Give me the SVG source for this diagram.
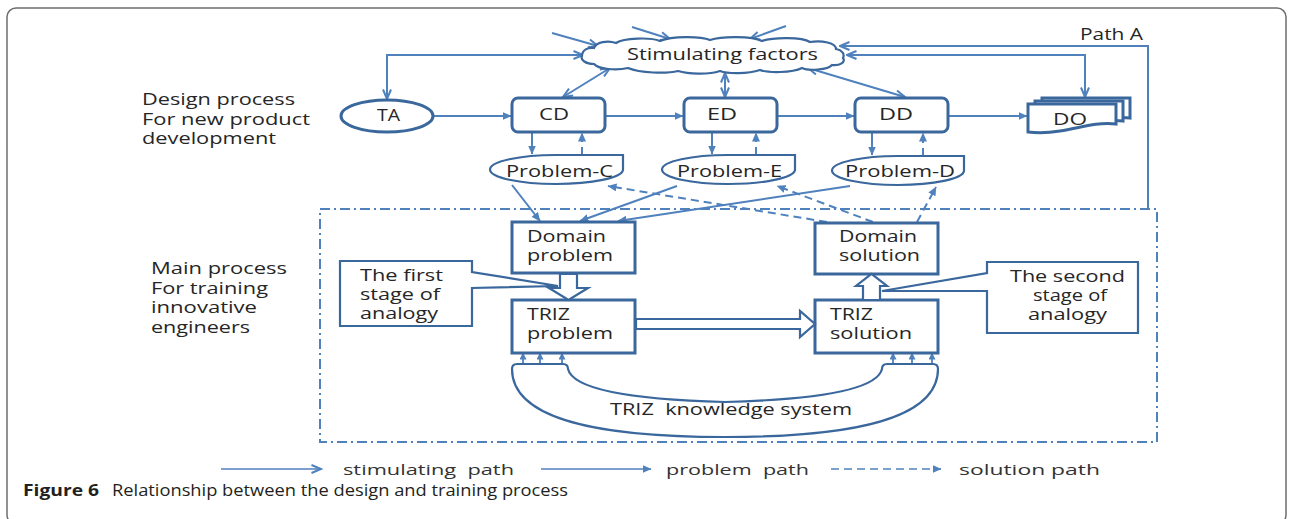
<svg xmlns="http://www.w3.org/2000/svg" width="1289" height="519" viewBox="0 0 1289 519">
  <defs>
    <style>
      .stim { fill: none; stroke: #4f81bd; stroke-width: 2; marker-end: url(#open); }
      .both { marker-start: url(#open); }
      .prob { fill: none; stroke: #4f81bd; stroke-width: 2; marker-end: url(#tri); }
      .sol { fill: none; stroke: #4f81bd; stroke-width: 2; stroke-dasharray: 8 5; marker-end: url(#tri); }
      .tiny { fill: none; stroke: #4f81bd; stroke-width: 1.8; marker-end: url(#triS); }
      .node { fill: #fff; stroke: #3a679c; stroke-width: 3; }
      .thin { fill: #fff; stroke: #3a679c; stroke-width: 2.2; }
      .frame { fill: none; stroke: #4f81bd; stroke-width: 2; stroke-dasharray: 10 4 2 4; }
      text { font-family: "Open Sans", "Liberation Sans", sans-serif; font-size: 16px; fill: #262626; }
      .sm { font-size: 15px; fill: #333; }
      .cap { font-size: 16px; fill: #231f20; }
    </style>
    <marker id="open" viewBox="0 0 12 10" markerWidth="12" markerHeight="10" refX="10.5" refY="5" markerUnits="userSpaceOnUse" orient="auto-start-reverse">
      <path d="M1,1 L10.5,5 L1,9" fill="none" stroke="#4f81bd" stroke-width="2"/>
    </marker>
    <marker id="tri" viewBox="0 0 9 8" markerWidth="9" markerHeight="8" refX="8.5" refY="4" markerUnits="userSpaceOnUse" orient="auto-start-reverse">
      <path d="M0,0 L9,4 L0,8 Z" fill="#4f81bd"/>
    </marker>
    <marker id="triS" viewBox="0 0 7 7" markerWidth="7" markerHeight="7" refX="6.5" refY="3.5" markerUnits="userSpaceOnUse" orient="auto">
      <path d="M0,0 L7,3.5 L0,7 Z" fill="#4f81bd"/>
    </marker>
  </defs>

  <rect width="1289" height="519" fill="#fff"/>
  <!-- figure border -->
  <rect x="7" y="8" width="1279" height="516" rx="9" fill="none" stroke="#6e6e6e" stroke-width="1.5"/>

  <!-- side labels -->
  <g id="labels">
    <text x="142" y="105" textLength="153" lengthAdjust="spacingAndGlyphs">Design process</text>
    <text x="142" y="125" textLength="168" lengthAdjust="spacingAndGlyphs">For new product</text>
    <text x="142" y="144" textLength="134" lengthAdjust="spacingAndGlyphs">development</text>
    <text x="151" y="274" textLength="136" lengthAdjust="spacingAndGlyphs">Main process</text>
    <text x="151" y="294" textLength="117" lengthAdjust="spacingAndGlyphs">For training</text>
    <text x="151" y="313" textLength="106" lengthAdjust="spacingAndGlyphs">innovative</text>
    <text x="151" y="333" textLength="99" lengthAdjust="spacingAndGlyphs">engineers</text>
    <text x="1080" y="40" textLength="63" lengthAdjust="spacingAndGlyphs">Path A</text>
  </g>

  <!-- training process boundary -->
  <rect class="frame" x="320" y="209" width="837" height="233"/>

  <!-- connectors -->
  <g id="connectors">
    <!-- stimulating paths -->
    <path class="stim" d="M552,33 L598,46"/>
    <path class="stim" d="M632,27 L670,39"/>
    <path class="stim" d="M786,26 L750,39"/>
    <path class="stim both" d="M583,55 H387 V99"/>
    <path class="stim both" d="M610,68 L563,97"/>
    <path class="stim both" d="M725,73 V97"/>
    <path class="stim both" d="M808,68 L905,97"/>
    <path class="stim both" d="M847,55 H1085 V97"/>
    <path class="stim" d="M1148,209 V46 H840"/>
    <!-- problem paths -->
    <path class="prob" d="M433,116 H511"/>
    <path class="prob" d="M605,116 H683"/>
    <path class="prob" d="M777,116 H854"/>
    <path class="prob" d="M948,116 H1027"/>
    <path class="prob" d="M532,133 V154"/>
    <path class="prob" d="M712,133 V154"/>
    <path class="prob" d="M872,133 V155"/>
    <path class="prob" d="M512,185 L540,221"/>
    <path class="prob" d="M677,186 L580,221"/>
    <path class="prob" d="M850,186 L618,221"/>
    <!-- solution paths -->
    <path class="sol" d="M582,155 V133"/>
    <path class="sol" d="M756,155 V133"/>
    <path class="sol" d="M923,156 V133"/>
    <path class="sol" d="M827,222 L608,186"/>
    <path class="sol" d="M873,222 L777,186"/>
    <path class="sol" d="M917,222 L936,187"/>
    <!-- knowledge feeds -->
    <path class="tiny" d="M523,364 V353"/>
    <path class="tiny" d="M540,364 V353"/>
    <path class="tiny" d="M562,364 V353"/>
    <path class="tiny" d="M893,364 V353"/>
    <path class="tiny" d="M912,364 V353"/>
    <path class="tiny" d="M932,364 V353"/>
  </g>

  <!-- stimulating factors cloud -->
  <g id="cloud">
    <path class="thin" d="M582,56 C582,50 588,47 594,48 C596,42 608,40 616,43 C624,38 650,37 660,41 C672,36 700,36 710,40 C722,36 752,36 762,41 C774,37 802,37 810,42 C822,40 836,43 836,49 C842,50 845,54 843,58 C846,62 840,66 832,65 C828,70 808,71 802,68 C792,73 768,73 760,70 C748,74 728,74 720,71 C708,75 688,74 678,71 C666,74 640,73 628,68 C616,71 598,69 594,64 C586,64 580,60 582,56 Z"/>
    <text x="627" y="60" font-size="16" textLength="191" lengthAdjust="spacingAndGlyphs">Stimulating factors</text>
  </g>

  <g id="TA">
    <ellipse class="node" cx="387" cy="116" rx="46" ry="16"/>
    <text x="377" y="121" textLength="23" lengthAdjust="spacingAndGlyphs">TA</text>
  </g>
  <g id="CD">
    <rect class="node" x="512" y="98" width="93" height="34" rx="6"/>
    <text x="539" y="120" textLength="30" lengthAdjust="spacingAndGlyphs">CD</text>
  </g>
  <g id="ED">
    <rect class="node" x="684" y="98" width="93" height="34" rx="6"/>
    <text x="707" y="120" textLength="30" lengthAdjust="spacingAndGlyphs">ED</text>
  </g>
  <g id="DD">
    <rect class="node" x="855" y="98" width="93" height="34" rx="6"/>
    <text x="879" y="120" textLength="34" lengthAdjust="spacingAndGlyphs">DD</text>
  </g>
  <g id="DO">
    <path class="node" transform="translate(14,-6)" d="M1028,104 H1116 V124 C1095,122 1080,128 1060,131 C1048,133 1036,133 1028,132 Z"/>
    <path class="node" transform="translate(7,-3)" d="M1028,104 H1116 V124 C1095,122 1080,128 1060,131 C1048,133 1036,133 1028,132 Z"/>
    <path class="node" d="M1028,104 H1116 V124 C1095,122 1080,128 1060,131 C1048,133 1036,133 1028,132 Z"/>
    <text x="1053" y="125" textLength="34" lengthAdjust="spacingAndGlyphs">DO</text>
  </g>

  <g id="problem-c">
    <path class="thin" d="M556,155 H623 V170 A67,14.5 0 0 1 556,184 A66,14.5 0 0 1 490,169.5 A66,14.5 0 0 1 556,155 Z"/>
    <text x="506" y="177" textLength="107" lengthAdjust="spacingAndGlyphs">Problem-C</text>
  </g>
  <g id="problem-e">
    <path class="thin" d="M728,155 H795 V170 A67,14.5 0 0 1 728,184 A66,14.5 0 0 1 662,169.5 A66,14.5 0 0 1 728,155 Z"/>
    <text x="677" y="177" textLength="105" lengthAdjust="spacingAndGlyphs">Problem-E</text>
  </g>
  <g id="problem-d">
    <path class="thin" d="M898,156 H964 V171 A66,14.5 0 0 1 898,185 A66,14.5 0 0 1 832,170.5 A66,14.5 0 0 1 898,156 Z"/>
    <text x="845" y="177" textLength="110" lengthAdjust="spacingAndGlyphs">Problem-D</text>
  </g>

  <g id="domain-problem">
    <rect class="node" x="512" y="222" width="123" height="51"/>
    <text x="527" y="242" textLength="79" lengthAdjust="spacingAndGlyphs">Domain</text>
    <text x="527" y="261" textLength="86" lengthAdjust="spacingAndGlyphs">problem</text>
  </g>
  <g id="domain-solution">
    <rect class="node" x="815" y="223" width="123" height="51"/>
    <text x="839" y="242" textLength="78" lengthAdjust="spacingAndGlyphs">Domain</text>
    <text x="839" y="261" textLength="81" lengthAdjust="spacingAndGlyphs">solution</text>
  </g>
  <g id="triz-problem">
    <rect class="node" x="512" y="300" width="123" height="53"/>
    <text x="527" y="320" textLength="43" lengthAdjust="spacingAndGlyphs">TRIZ</text>
    <text x="527" y="339" textLength="86" lengthAdjust="spacingAndGlyphs">problem</text>
  </g>
  <g id="triz-solution">
    <rect class="node" x="815" y="300" width="123" height="53"/>
    <text x="830" y="320" textLength="43" lengthAdjust="spacingAndGlyphs">TRIZ</text>
    <text x="830" y="339" textLength="82" lengthAdjust="spacingAndGlyphs">solution</text>
  </g>

  <!-- analogy block arrows -->
  <g id="analogy-arrows">
    <path class="thin" d="M560,274 H577 V288 H588 L568.5,300 L549,288 H560 Z"/>
    <path class="thin" d="M636,319 H800 V311 L815,324 L800,337 V329 H636 Z"/>
    <path class="thin" d="M863,300 V286 H856 L871.5,274 L887,286 H880 V300 Z"/>
  </g>

  <g id="first-stage">
    <path class="thin" d="M340,261 H472 V272 L558,286 L472,288 V326 H340 Z"/>
    <text x="360" y="281" textLength="83" lengthAdjust="spacingAndGlyphs">The first</text>
    <text x="360" y="300" textLength="80" lengthAdjust="spacingAndGlyphs">stage of</text>
    <text x="360" y="319" textLength="78" lengthAdjust="spacingAndGlyphs">analogy</text>
  </g>
  <g id="second-stage">
    <path class="thin" d="M987,262 H1138 V333 H987 V291 L882,291 L987,273 Z"/>
    <text x="1010" y="282" textLength="115" lengthAdjust="spacingAndGlyphs">The second</text>
    <text x="1033" y="301" textLength="74" lengthAdjust="spacingAndGlyphs">stage of</text>
    <text x="1028" y="320" textLength="79" lengthAdjust="spacingAndGlyphs">analogy</text>
  </g>

  <g id="knowledge-system">
    <path class="thin" d="M512,369 Q512,364 517,364 H563 Q568,364 568,369 Q575,398 725,402 Q875,398 882,369 Q882,364 887,364 H933 Q938,364 938,369 C938,420 850,437 725,437 C600,437 512,420 512,369 Z"/>
    <text x="610" y="415" xml:space="preserve" textLength="242" lengthAdjust="spacingAndGlyphs">TRIZ  knowledge system</text>
  </g>

  <!-- legend -->
  <g id="legend">
    <path d="M221,469 H321" fill="none" stroke="#4f81bd" stroke-width="1.6" marker-end="url(#open)"/>
    <text class="sm" x="343" y="475" xml:space="preserve" textLength="171" lengthAdjust="spacingAndGlyphs">stimulating  path</text>
    <path d="M541,469 H651" fill="none" stroke="#4f81bd" stroke-width="1.6" marker-end="url(#tri)"/>
    <text class="sm" x="666" y="475" xml:space="preserve" textLength="143" lengthAdjust="spacingAndGlyphs">problem  path</text>
    <path d="M831,469 H941" fill="none" stroke="#4f81bd" stroke-width="1.6" stroke-dasharray="8 5" marker-end="url(#tri)"/>
    <text class="sm" x="959" y="475" textLength="141" lengthAdjust="spacingAndGlyphs">solution path</text>
  </g>

  <!-- caption -->
  <g id="caption">
    <text class="cap" x="23" y="496" font-weight="bold" textLength="76" lengthAdjust="spacingAndGlyphs">Figure 6</text>
    <text class="cap" x="112" y="496" textLength="456" lengthAdjust="spacingAndGlyphs">Relationship between the design and training process</text>
  </g>
</svg>
